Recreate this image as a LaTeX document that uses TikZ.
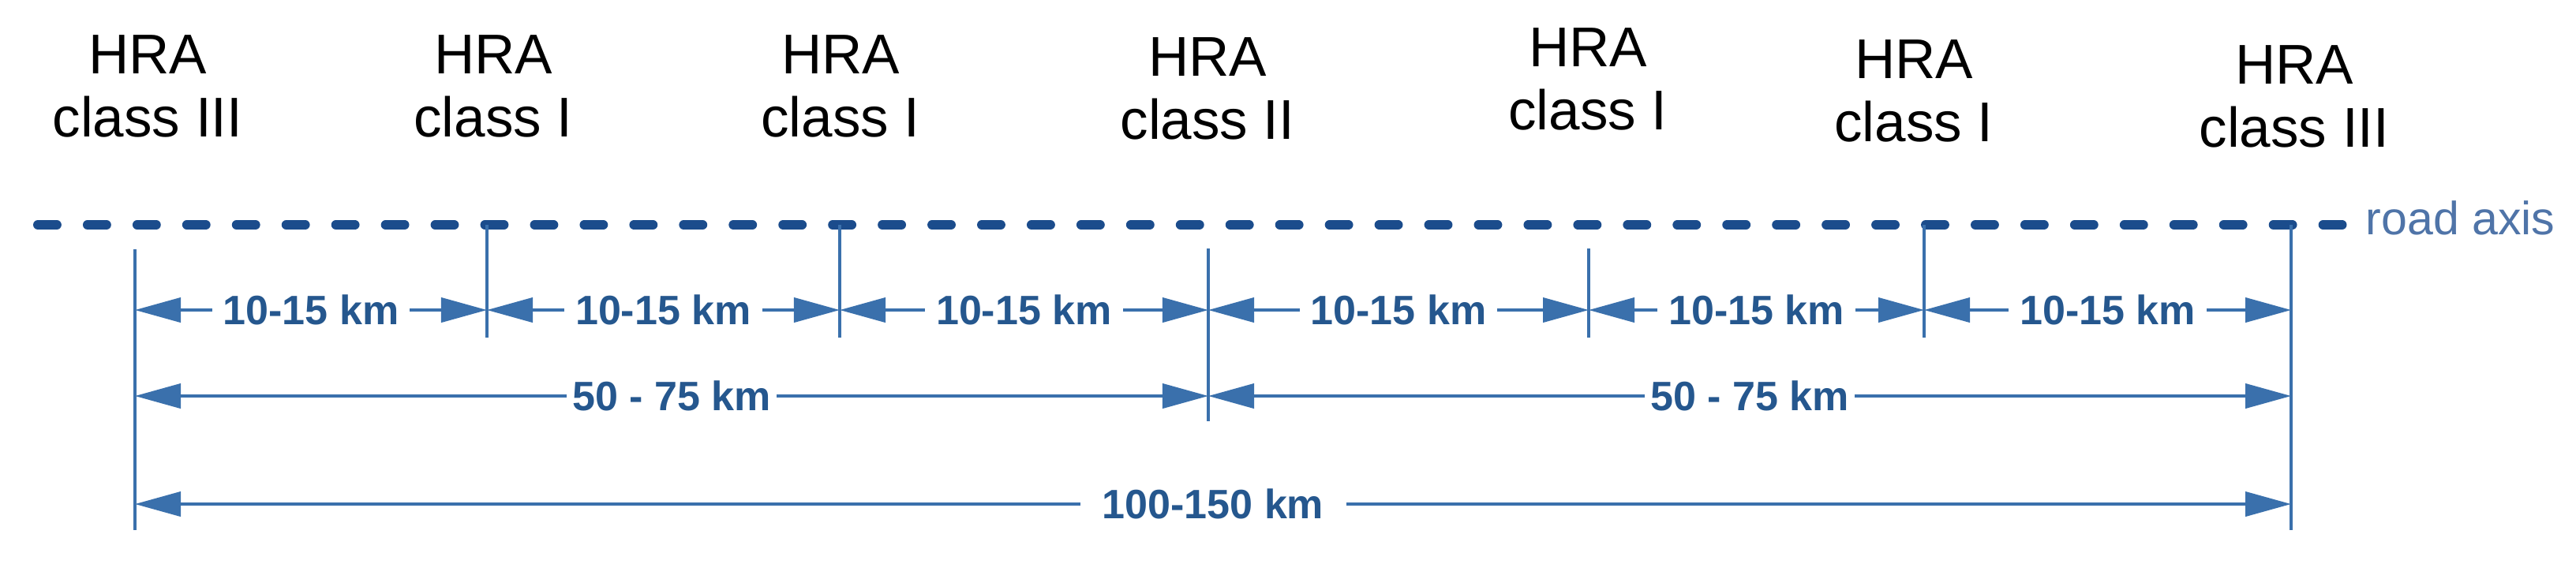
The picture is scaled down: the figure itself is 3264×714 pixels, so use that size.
\documentclass[tikz,border=0pt]{standalone}
\usepackage{fontspec}
\setmainfont{Liberation Sans}
\usetikzlibrary{arrows.meta}

\definecolor{roadblue}{HTML}{1B4C8C}
\definecolor{lineblue}{HTML}{3A70AC}
\definecolor{labelblue}{HTML}{25578E}
\definecolor{axistext}{HTML}{4F74A8}

\begin{document}
\begin{tikzpicture}[x=0.01cm, y=-0.01cm,
  hra/.style={anchor=north, align=center, inner sep=0pt,
    font=\fontsize{20.2pt}{22.8pt}\selectfont},
  road/.style={draw=roadblue, line width=3.4pt, line cap=round,
    dash pattern=on 6.8pt off 11.1pt},
  kmpost/.style={draw=lineblue, line width=1.1pt},
  dimline/.style={draw=lineblue, line width=1.2pt,
    {Triangle[length=16.5pt,width=8.8pt]}-{Triangle[length=16.5pt,width=8.8pt]}},
  dimlabel/.style={fill=white, text=labelblue, inner xsep=4pt, inner ysep=1pt,
    font=\fontsize{14.8pt}{16pt}\selectfont\bfseries}]
  \useasboundingbox (0,0) rectangle (3264,714);

  % rest areas
  \node[hra] (hra1) at (187,44) {HRA\\class III};
  \node[hra] (hra2) at (625,44) {HRA\\class I};
  \node[hra] (hra3) at (1065,44) {HRA\\class I};
  \node[hra] (hra4) at (1530,47) {HRA\\class II};
  \node[hra] (hra5) at (2012,35) {HRA\\class I};
  \node[hra] (hra6) at (2425,50) {HRA\\class I};
  \node[hra] (hra7) at (2907,57) {HRA\\class III};

  % road axis
  \coordinate (roadL) at (48,285);
  \coordinate (roadR) at (2970,285);
  \draw[road] (roadL) -- (roadR);
  \node[anchor=base west, inner sep=0pt, text=axistext,
    font=\fontsize{16.8pt}{18pt}\selectfont] (axislabel) at (2997,297) {road axis};

  % posts
  \draw[kmpost] (171,316) -- (171,672);
  \draw[kmpost] (617,285) -- (617,428);
  \draw[kmpost] (1064,285) -- (1064,428);
  \draw[kmpost] (1531,315) -- (1531,534);
  \draw[kmpost] (2013,315) -- (2013,428);
  \draw[kmpost] (2438,285) -- (2438,428);
  \draw[kmpost] (2903,285) -- (2903,672);

  \foreach \x [count=\i] in {171,617,1064,1531,2013,2438,2903} {
    \coordinate (a\i) at (\x,393);
  }
  \coordinate (b1) at (171,502);
  \coordinate (b2) at (1531,502);
  \coordinate (b3) at (2903,502);
  \coordinate (c1) at (171,639);
  \coordinate (c2) at (2903,639);

  % distances
  \foreach \i/\j in {1/2,2/3,3/4,4/5,5/6,6/7} {
    \draw[dimline] (a\i) -- (a\j) node[dimlabel, midway] (d\i) {10-15 km};
  }
  \draw[dimline] (b1) -- (b2) node[dimlabel, midway, inner xsep=2pt] (half1) {50 - 75 km};
  \draw[dimline] (b2) -- (b3) node[dimlabel, midway, inner xsep=2pt] (half2) {50 - 75 km};
  \draw[dimline] (c1) -- (c2) node[dimlabel, midway, inner xsep=8pt] (whole) {100-150 km};

\end{tikzpicture}
\end{document}
